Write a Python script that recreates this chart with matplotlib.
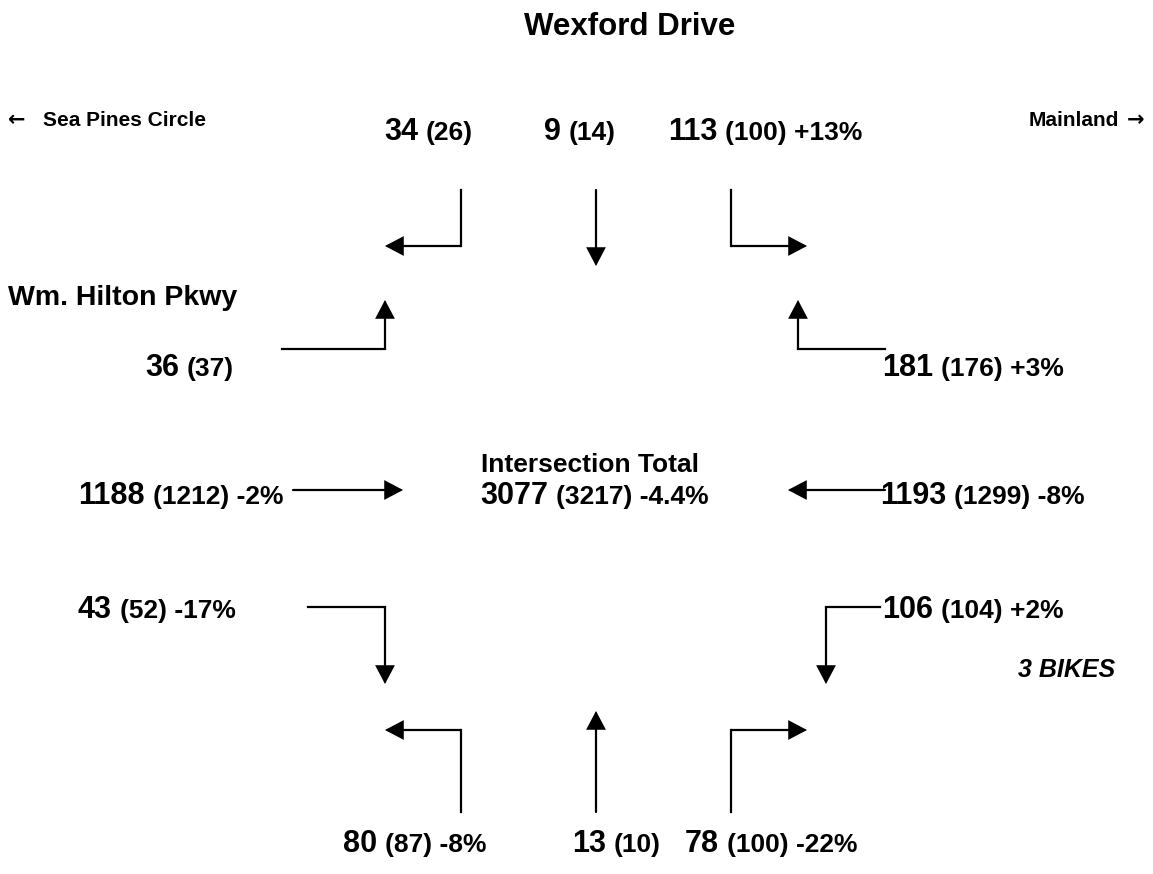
"""Turning-movement count diagram: Wm. Hilton Pkwy at Wexford Drive."""

import matplotlib

matplotlib.use("Agg")
import matplotlib.pyplot as plt
from matplotlib.patches import FancyArrowPatch

plt.rcParams["font.family"] = ["Liberation Sans", "DejaVu Sans"]

# counts: current, (previous year), change
movements = ["SBR", "SBT", "SBL", "EBL", "WBR", "EBT", "WBT", "EBR", "WBL", "NBL", "NBT", "NBR"]
current = [34, 9, 113, 36, 181, 1188, 1193, 43, 106, 80, 13, 78]
previous = [26, 14, 100, 37, 176, 1212, 1299, 52, 104, 87, 10, 100]
change = ["", "", "+13%", "", "+3%", "-2%", "-8%", "-17%", "+2%", "-8%", "", "-22%"]

total_current = 3077
total_previous = 3217
total_change = "-4.4%"
bikes = 3

title = "Wexford Drive"
side_road = "Wm. Hilton Pkwy"
west_dest = "Sea Pines Circle"
east_dest = "Mainland"

# layout (pixel positions on the page) ---------------------------------
W, H = 1153, 874
label_pos = {
    "SBR": (384, 140), "SBT": (544, 140), "SBL": (668, 140),
    "EBL": (145, 376), "WBR": (882, 376),
    "EBT": (78, 504), "WBT": (880, 504),
    "EBR": (78, 618), "WBL": (882, 618),
    "NBL": (343, 852), "NBT": (572, 852), "NBR": (685, 852),
}
arrow_path = {
    "SBR": [(461, 190), (461, 246), (385, 246)],
    "SBT": [(596, 190), (596, 266)],
    "SBL": [(731, 190), (731, 246), (807, 246)],
    "EBL": [(282, 349), (385, 349), (385, 300)],
    "WBR": [(885, 349), (798, 349), (798, 300)],
    "EBT": [(293, 490), (403, 490)],
    "WBT": [(885, 490), (788, 490)],
    "EBR": [(308, 607), (385, 607), (385, 684)],
    "WBL": [(880, 607), (826, 607), (826, 684)],
    "NBL": [(461, 812), (461, 730), (385, 730)],
    "NBT": [(596, 812), (596, 711)],
    "NBR": [(731, 812), (731, 730), (807, 730)],
}
BIG, SMALL = 22, 19
GAP = 8
LW = 1.6

fig = plt.figure(figsize=(W / 100, H / 100), dpi=100)
ax = fig.add_axes([0, 0, 1, 1])
ax.set_xlim(0, W)
ax.set_ylim(H, 0)
ax.axis("off")
renderer = fig.canvas.get_renderer()


def draw_arrow(pts):
    if len(pts) > 2:
        xs, ys = zip(*pts[:-1])
        ax.plot(xs, ys, color="black", lw=LW, solid_joinstyle="miter")
    ax.add_patch(
        FancyArrowPatch(
            pts[-2], pts[-1], arrowstyle="-|>,head_length=11,head_width=5.8",
            mutation_scale=1, shrinkA=0, shrinkB=0, color="black", lw=LW,
            joinstyle="miter",
        )
    )


def count_label(x, y, big, small):
    t = ax.text(x, y, big, fontsize=BIG, fontweight="bold", ha="left", va="baseline")
    if small:
        bb = t.get_window_extent(renderer)
        x_end = ax.transData.inverted().transform((bb.x1, bb.y0))[0]
        ax.text(x_end + GAP, y, small, fontsize=SMALL, fontweight="bold",
                ha="left", va="baseline")


for i, m in enumerate(movements):
    draw_arrow(arrow_path[m])
    small = f"({previous[i]})" + (f" {change[i]}" if change[i] else "")
    count_label(*label_pos[m], str(current[i]), small)

ax.text(590, 472, "Intersection Total", fontsize=19, fontweight="bold",
        ha="center", va="baseline")
count_label(480, 504, str(total_current), f"({total_previous}) {total_change}")

ax.text(630, 35, title, fontsize=22.5, fontweight="bold", ha="center", va="baseline")
ax.text(8, 305, side_road, fontsize=20.5, fontweight="bold", ha="left", va="baseline")

# destination labels with arrows
ax.text(8, 126, "\u2190", fontsize=15, fontweight="bold", family="DejaVu Sans",
        ha="left", va="baseline")
ax.text(43, 126, west_dest, fontsize=15, fontweight="bold", ha="left", va="baseline")
ax.text(1144, 126, "\u2192", fontsize=15, fontweight="bold", family="DejaVu Sans",
        ha="right", va="baseline")
ax.text(1119, 126, east_dest, fontsize=15, fontweight="bold", ha="right", va="baseline")

ax.text(1018, 677, f"{bikes} BIKES", fontsize=18, fontweight="bold", style="italic",
        ha="left", va="baseline")

fig.savefig("out.png", dpi=100)
